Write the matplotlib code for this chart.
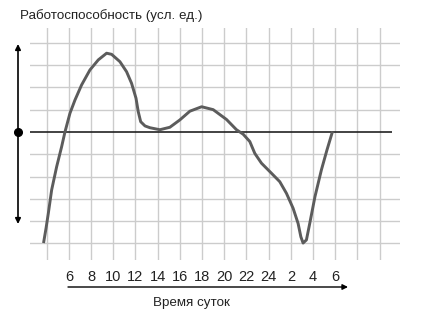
import matplotlib
matplotlib.use("Agg")
import matplotlib.pyplot as plt

# Data: time in hours (continuous, 24+ = next day), performance in conventional units
hours = [3.72, 3.95, 4.15, 4.45, 4.9, 5.35, 5.65, 6.1, 6.55, 7.15, 7.9, 8.65,
         9.4, 9.85, 10.6, 11.2, 11.65, 12.05, 12.25, 12.47, 12.86, 13.3,
         14.2, 15.1, 16.0, 16.9, 17.96, 19.0, 20.2, 21.1, 21.7, 22.3, 22.75,
         23.35, 24.25, 25.0, 25.6, 26.2, 26.65, 26.9, 27.1, 27.4, 27.7,
         28.17, 28.75, 29.25, 29.75]
perf = [-4.98, -4.3, -3.65, -2.6, -1.56, -0.66, 0.0, 0.84, 1.43, 2.11, 2.78, 3.23,
        3.53, 3.48, 3.15, 2.7, 2.18, 1.51, 0.91, 0.46, 0.27, 0.19,
        0.1, 0.21, 0.54, 0.93, 1.13, 1.0, 0.56, 0.1, -0.1, -0.43, -0.96,
        -1.4, -1.85, -2.23, -2.75, -3.42, -4.1, -4.7, -4.98, -4.84, -4.1,
        -2.9, -1.7, -0.81, 0.02]

tick_pos = [6, 8, 10, 12, 14, 16, 18, 20, 22, 24, 26, 28, 30]
tick_labels = ['6', '8', '10', '12', '14', '16', '18', '20', '22', '24', '2', '4', '6']
grid_x = list(range(4, 35, 2))
grid_y = [-5, -4, -3, -2, -1, 1, 2, 3, 4]

plt.rcParams['font.family'] = ['Liberation Sans', 'DejaVu Sans']

W, H = 422, 318
fig = plt.figure(figsize=(W / 100, H / 100), dpi=100)
ax = fig.add_axes([30 / W, (H - 260) / H, 370 / W, 232 / H])
ax.set_xlim(2.5, 35.83)
ax.set_ylim(-5.74, 4.66)
for s in ax.spines.values():
    s.set_visible(False)

gc = '#cccccc'
for gx in grid_x:
    ax.axvline(gx, color=gc, lw=1.0, zorder=1)
for gy in grid_y:
    ax.axhline(gy, color=gc, lw=1.0, zorder=1)
ax.hlines(0, 2.5, 35.1, color='#222222', lw=1.2, zorder=2)

ax.plot(hours, perf, color='#5c5c5c', lw=2.1, solid_capstyle='butt',
        solid_joinstyle='round', zorder=3)

ax.set_yticks([])
ax.set_xticks(tick_pos)
ax.set_xticklabels(tick_labels, fontsize=10.5, color='#222222')
ax.tick_params(axis='x', length=0, pad=7)

# Vertical double arrow with dot on the left
ax.annotate('', xy=(18, H - 44), xytext=(18, H - 224), xycoords='figure pixels',
            textcoords='figure pixels',
            arrowprops=dict(arrowstyle='<|-|>', color='black', lw=1.2,
                            mutation_scale=8, shrinkA=0, shrinkB=0))
fig.add_artist(plt.Line2D([18 / W], [(H - 132) / H], marker='o', color='black',
                          markersize=5.5, transform=fig.transFigure))

# Horizontal time arrow
ax.annotate('', xy=(348, H - 287), xytext=(68, H - 287), xycoords='figure pixels',
            textcoords='figure pixels',
            arrowprops=dict(arrowstyle='-|>', color='black', lw=1.0,
                            mutation_scale=8, shrinkA=0, shrinkB=0))

fig.text(20 / W, (H - 16) / H, 'Работоспособность (усл. ед.)', fontsize=9.6,
         ha='left', va='center', color='#222222')
fig.text(191 / W, (H - 303) / H, 'Время суток', fontsize=9.6,
         ha='center', va='center', color='#222222')

fig.savefig('out.png', dpi=100)
